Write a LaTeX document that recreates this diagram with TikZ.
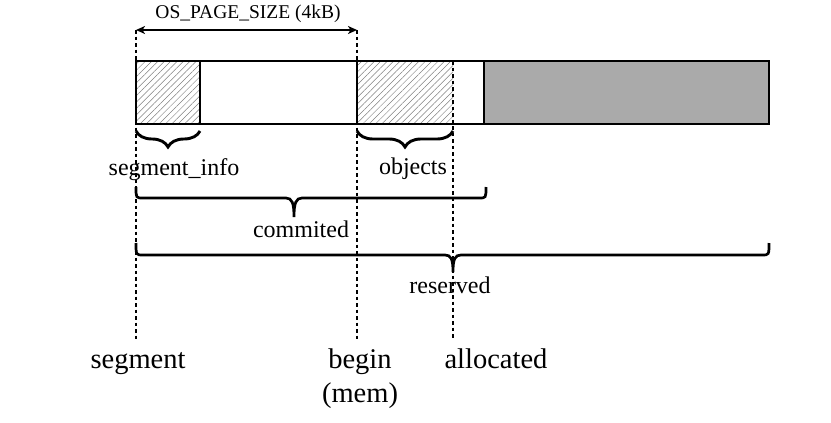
\documentclass[tikz,border=0pt]{standalone}
\usepackage{fontspec}
\setmainfont{Liberation Serif}
\usetikzlibrary{arrows.meta,patterns.meta,decorations.pathreplacing}
\definecolor{freegray}{RGB}{170,170,170}
\begin{document}
\begin{tikzpicture}[x=1pt, y=-1pt,
    box/.style={line width=1.9pt},
    hatched/.style={pattern={Lines[angle=45,distance=4.5pt,line width=0.5pt]}, pattern color=gray},
    guide/.style={line width=1.9pt, dash pattern=on 3.5pt off 3pt},
    smallbrace/.style={decorate, decoration={brace, mirror, amplitude=16pt}, line width=2.9pt},
    bigbrace/.style={line width=2.7pt},
    lbl/.style={anchor=base, inner sep=0pt, font=\fontsize{24}{28}\selectfont},
    ptr/.style={anchor=base, inner sep=0pt, font=\fontsize{28.5}{34}\selectfont}
]
    \useasboundingbox (0,0) rectangle (831,423);

    % guide points
    \coordinate (segtop) at (136,30);
    \coordinate (segbot) at (136,340);
    \coordinate (begtop) at (357,30);
    \coordinate (begbot) at (357,340);
    \coordinate (alltop) at (453,61);
    \coordinate (allbot) at (453,340);

    % page parts
    \fill[hatched] (136,61) rectangle (200,124);
    \fill[hatched] (357,61) rectangle (453,124);
    \fill[freegray] (484,61) rectangle (769,124);

    % labels
    \node[anchor=base, inner sep=0pt, font=\fontsize{19.5}{23}\selectfont] (pagesize) at (248,18) {OS\_PAGE\_SIZE (4kB)};
    \node[lbl] (info) at (174,175) {segment\_info};
    \node[lbl] (objs) at (413,174) {objects};
    \node[lbl] (comm) at (301,237) {commited};
    \node[lbl] (resv) at (450,293) {reserved};
    \node[ptr] (segment) at (138,368) {segment};
    \node[ptr] (begin) at (360,368) {begin};
    \node[ptr] (mem) at (360,402) {(mem)};
    \node[ptr] (allocated) at (496,368) {allocated};

    % dotted guides
    \draw[guide] (segtop) -- (segbot);
    \draw[guide] (begtop) -- (begbot);
    \draw[guide] (alltop) -- (allbot);

    \draw[<->, >={Stealth[length=9pt,width=8pt,inset=2.5pt]}, line width=1.6pt] (segtop) -- (begtop);

    % outline
    \draw[box] (136,61) rectangle (769,124);
    \draw[box] (200,61) -- (200,124);
    \draw[box] (357,61) -- (357,124);
    \draw[box] (484,61) -- (484,124);

    % braces
    \draw[smallbrace] (136,131) -- (200,131);
    \draw[smallbrace] (357,131) -- (453,131);
    \draw[bigbrace] (136,187) .. controls (136,198) .. (143,198) -- (286,198)
        .. controls (292,198) and (294,203) .. (294,217)
        .. controls (294,203) and (296,198) .. (302,198) -- (479,198)
        .. controls (486,198) .. (486,187);
    \draw[bigbrace] (136,243) .. controls (136,255) .. (143,255) -- (445,255)
        .. controls (451,255) and (453,259) .. (453,272)
        .. controls (453,259) and (455,255) .. (461,255) -- (762,255)
        .. controls (769,255) .. (769,243);
\end{tikzpicture}
\end{document}
